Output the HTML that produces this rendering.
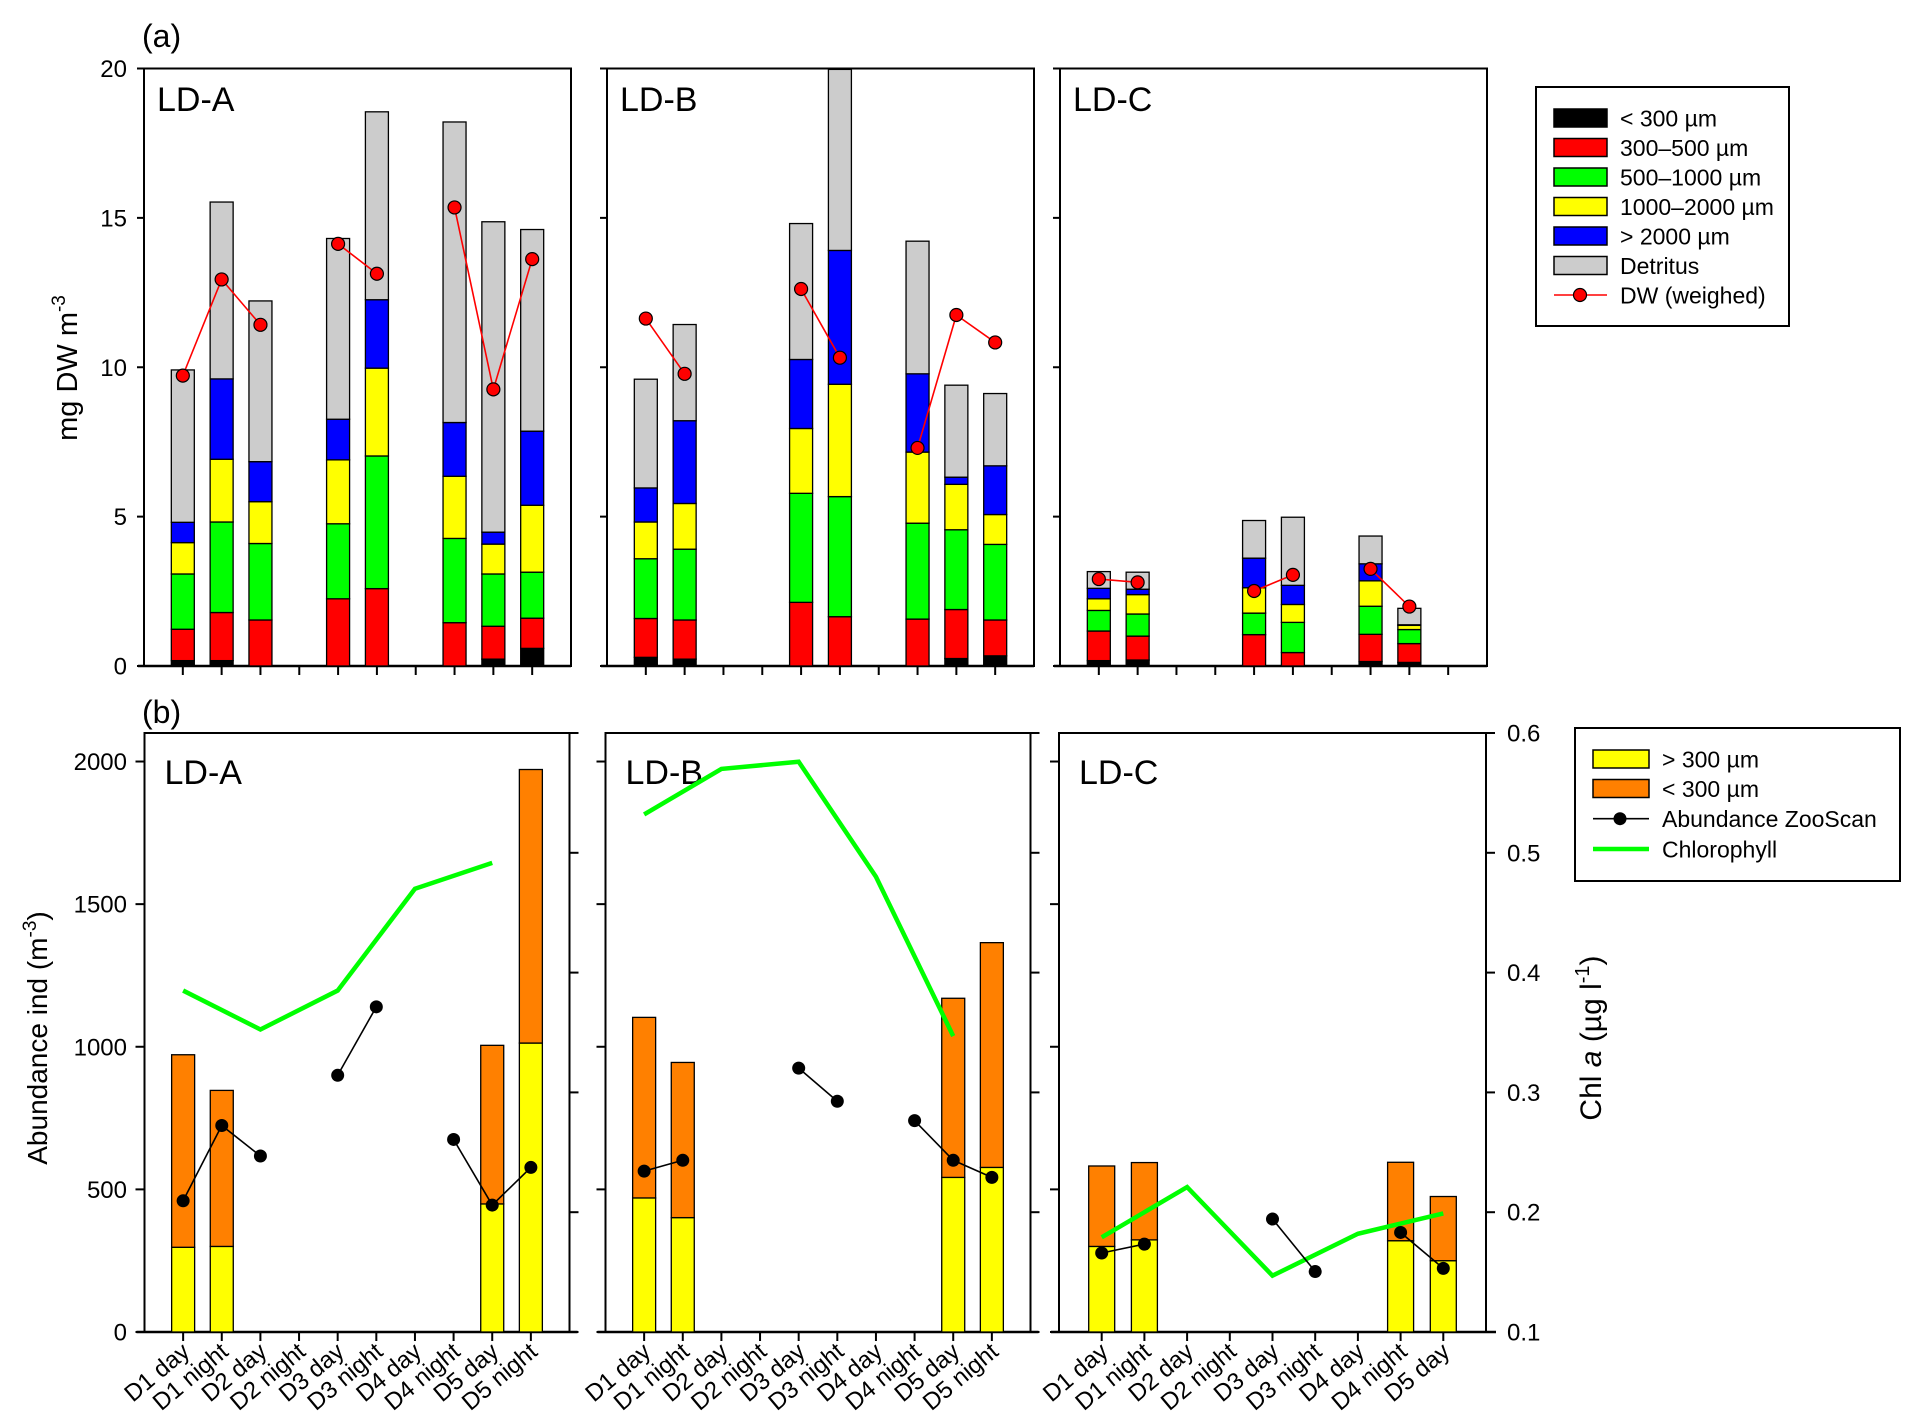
<!DOCTYPE html>
<html><head><meta charset="utf-8"><style>
html,body{margin:0;padding:0;background:#fff;}
svg{display:block;}
text{font-family:"Liberation Sans",sans-serif;fill:#000;}
</style></head><body>
<svg id="chart" width="1916" height="1427" viewBox="0 0 1916 1427" xmlns="http://www.w3.org/2000/svg"></svg>
<script>
// ---------- DATA ----------
const cats10 = ["D1 day","D1 night","D2 day","D2 night","D3 day","D3 night","D4 day","D4 night","D5 day","D5 night"];
const cats9 = ["D1 day","D1 night","D2 day","D2 night","D3 day","D3 night","D4 day","D4 night","D5 day"];
const yTicksA = [0,5,10,15,20];
const yTicksB = [0,500,1000,1500,2000];
const chlTicks = [0.1,0.2,0.3,0.4,0.5,0.6];
const sizeClasses = ["< 300 µm","300–500 µm","500–1000 µm","1000–2000 µm","> 2000 µm","Detritus"];
// panel (a) segments
const A_lt300 = [0.18,0.18,0,null,0,0,null,0,0.23,0.59];
const A_300_500 = [1.05,1.61,1.54,null,2.25,2.59,null,1.45,1.10,1.01];
const A_500_1000 = [1.85,3.03,2.56,null,2.51,4.44,null,2.82,1.75,1.54];
const A_1000_2000 = [1.05,2.10,1.40,null,2.14,2.94,null,2.08,1.00,2.24];
const A_gt2000 = [0.68,2.69,1.34,null,1.36,2.29,null,1.80,0.40,2.48];
const A_detritus = [5.10,5.92,5.38,null,6.05,6.29,null,10.06,10.39,6.75];
const A_dw = [9.72,12.94,11.42,null,14.13,13.13,null,15.35,9.26,13.62];
const B_lt300 = [0.29,0.23,null,null,0,0,null,0,0.25,0.34];
const B_300_500 = [1.30,1.31,null,null,2.13,1.65,null,1.57,1.64,1.20];
const B_500_1000 = [2.00,2.37,null,null,3.65,4.02,null,3.21,2.67,2.53];
const B_1000_2000 = [1.23,1.53,null,null,2.17,3.76,null,2.38,1.52,1.00];
const B_gt2000 = [1.14,2.77,null,null,2.31,4.48,null,2.62,0.24,1.63];
const B_detritus = [3.64,3.22,null,null,4.55,6.06,null,4.44,3.08,2.42];
const B_dw = [11.63,9.78,null,null,12.62,10.32,null,7.30,11.75,10.83];
const C_lt300 = [0.18,0.20,null,null,0,0,null,0.15,0.12,null];
const C_300_500 = [0.99,0.80,null,null,1.05,0.45,null,0.91,0.63,null];
const C_500_1000 = [0.69,0.74,null,null,0.72,1.01,null,0.94,0.47,null];
const C_1000_2000 = [0.39,0.65,null,null,0.85,0.60,null,0.85,0.14,null];
const C_gt2000 = [0.35,0.18,null,null,0.99,0.64,null,0.57,0.02,null];
const C_detritus = [0.56,0.57,null,null,1.26,2.28,null,0.93,0.55,null];
const C_dw = [2.91,2.80,null,null,2.51,3.05,null,3.25,1.99,null];
// panel (b)
const bA_gt300 = [297,300,null,null,null,null,null,null,449,1013];
const bA_lt300 = [675,547,null,null,null,null,null,null,556,959];
const bA_zoo = [460,724,617,null,900,1140,null,675,445,577];
const bA_chl = [0.385,null,0.3525,null,0.385,null,0.47,null,0.4916,null];
const bB_gt300 = [470,401,null,null,null,null,null,null,542,577];
const bB_lt300 = [633,544,null,null,null,null,null,null,628,788];
const bB_zoo = [564,602,null,null,925,809,null,741,602,542];
const bB_chl = [0.532,null,0.570,null,0.576,null,0.480,null,0.347,null];
const bC_gt300 = [300,323,null,null,null,null,null,320,250];
const bC_lt300 = [282,271,null,null,null,null,null,275,225];
const bC_zoo = [277,308,null,null,396,212,null,349,223];
const bC_chl = [0.179,null,0.221,null,0.147,null,0.182,null,0.199];

// ---------- DRAWING ----------
const NS = "http://www.w3.org/2000/svg";
const svg = document.getElementById("chart");
function mk(tag, attrs, parent) {
  const el = document.createElementNS(NS, tag);
  for (const k in attrs) el.setAttribute(k, attrs[k]);
  (parent || svg).appendChild(el);
  return el;
}
function label(x, y, s, fs, anchor, name, sx, rot) {
  const el = mk("text", {"font-size": fs, "text-anchor": anchor || "start",
    transform: "translate(" + x + "," + y + ")" + (rot ? " rotate(" + rot + ")" : "") + " scale(" + (sx || 1) + ",1)"});
  el.textContent = s;
  
  
  return el;
}
function line(x1, y1, x2, y2, name, stroke, w) {
  const el = mk("line", {x1: x1, y1: y1, x2: x2, y2: y2, stroke: stroke || "#000", "stroke-width": w || 2});
  
  
  return el;
}
const segColors = ["#000000","#ff0000","#00ff00","#ffff00","#0000ff","#cccccc"];

// panel (a)
const aTop = 68.5, aBot = 666;
const yA = v => aBot - (v / 20) * (aBot - aTop);
const panelsA = [
  {name: "LD-A", left: 144, segs: [A_lt300,A_300_500,A_500_1000,A_1000_2000,A_gt2000,A_detritus], dw: A_dw},
  {name: "LD-B", left: 607, segs: [B_lt300,B_300_500,B_500_1000,B_1000_2000,B_gt2000,B_detritus], dw: B_dw},
  {name: "LD-C", left: 1060, segs: [C_lt300,C_300_500,C_500_1000,C_1000_2000,C_gt2000,C_detritus], dw: C_dw}
];
const PW = 427;
panelsA.forEach((p, pi) => {
  const xA = i => p.left + (i + 1) * PW / 11;
  const frame = mk("rect", {x: p.left, y: aTop, width: PW, height: aBot - aTop, fill: "none", stroke: "#000", "stroke-width": 2});
  
  
  line(p.left - 6, aBot, p.left + PW, aBot, "x-axis-a-" + p.name.toLowerCase(), "#000", 2.5);
  yTicksA.forEach(t => {
    line(p.left - 7, yA(t), p.left, yA(t), "y-tick-a", "#000", 2);
    if (pi === 0) label(127, yA(t) + 8.5, String(t), 24, "end", "y-tick-label-a");
  });
  cats10.forEach((c, i) => line(xA(i), aBot, xA(i), aBot + 9, "x-tick-a", "#000", 2));
  label(p.left + 13, 111, p.name, 34, "start", "panel-a-title-" + p.name.toLowerCase());
  const bw = 23;
  for (let i = 0; i < 10; i++) {
    if (p.segs[0][i] === null) continue;
    let cum = 0;
    p.segs.forEach((arr, si) => {
      const v = arr[i] || 0;
      if (v <= 0) return;
      const r = mk("rect", {x: xA(i) - bw / 2, y: yA(cum + v), width: bw, height: yA(cum) - yA(cum + v),
        fill: segColors[si], stroke: "#000", "stroke-width": 1.3});
      
      
      cum += v;
    });
  }
  for (let i = 0; i < 9; i++) {
    if (p.dw[i] !== null && p.dw[i + 1] !== null)
      line(xA(i), yA(p.dw[i]), xA(i + 1), yA(p.dw[i + 1]), "dw-line", "#ff0000", 1.6);
  }
  p.dw.forEach((v, i) => {
    if (v === null) return;
    const c = mk("circle", {cx: xA(i), cy: yA(v), r: 6.5, fill: "#ff0000", stroke: "#000", "stroke-width": 1.2});
    
    
  });
});
label(142, 47, "(a)", 32, "start", "panel-a-letter");
{
  const t = mk("text", {"font-size": 29, "text-anchor": "middle", transform: "translate(77,368) rotate(-90)"});
  t.innerHTML = 'mg DW m<tspan dy="-12" font-size="19">-3</tspan>';
  
  
}
// legend (a)
{
  const lg = mk("rect", {x: 1536, y: 87, width: 253, height: 239, fill: "#fff", stroke: "#000", "stroke-width": 2});
  
  
  sizeClasses.forEach((s, i) => {
    const cy = 118 + i * 29.5;
    const r = mk("rect", {x: 1554, y: cy - 9, width: 53, height: 18, fill: segColors[i], stroke: "#000", "stroke-width": 1.5});
    
    
    label(1620, cy + 8.5, s, 23, "start", "legend-entry");
  });
  const cy = 118 + 6 * 29.5;
  line(1554, cy, 1607, cy, "legend-dw-line", "#ff0000", 1.6);
  const c = mk("circle", {cx: 1580, cy: cy, r: 6.5, fill: "#ff0000", stroke: "#000", "stroke-width": 1.2});
  
  
  label(1620, cy + 8.5, "DW (weighed)", 23, "start", "legend-entry");
}

// panel (b)
const bTop = 733, bBot = 1332;
const yB = v => bBot - (v / 2100) * (bBot - bTop);
const yChl = v => bBot - ((v - 0.1) / 0.5) * (bBot - bTop);
const panelsB = [
  {name: "LD-A", left: 144.5, w: 425, cats: cats10, gt: bA_gt300, lt: bA_lt300, zoo: bA_zoo, chl: bA_chl, bw: 23},
  {name: "LD-B", left: 605.5, w: 425, cats: cats10, gt: bB_gt300, lt: bB_lt300, zoo: bB_zoo, chl: bB_chl, bw: 23},
  {name: "LD-C", left: 1059, w: 427, cats: cats9, gt: bC_gt300, lt: bC_lt300, zoo: bC_zoo, chl: bC_chl, bw: 26}
];
panelsB.forEach((p, pi) => {
  const n = p.cats.length;
  const xB = i => p.left + (i + 1) * p.w / (n + 1);
  const frame = mk("rect", {x: p.left, y: bTop, width: p.w, height: bBot - bTop, fill: "none", stroke: "#000", "stroke-width": 2});
  
  
  line(p.left - 8, bBot, p.left + p.w + (pi === 2 ? 10 : 8), bBot, "x-axis-b-" + p.name.toLowerCase(), "#000", 2.5);
  yTicksB.forEach(t => {
    line(p.left - 9, yB(t), p.left, yB(t), "y-tick-b", "#000", 2);
    if (pi === 0) label(127, yB(t) + 8.5, String(t), 24, "end", "y-tick-label-b");
  });
  chlTicks.forEach(t => {
    line(p.left + p.w, yChl(t), p.left + p.w + 9, yChl(t), "chl-tick", "#000", 2);
    if (pi === 2) label(1507, yChl(t) + 8.5, t.toFixed(1), 24, "start", "chl-tick-label");
  });
  p.cats.forEach((c, i) => {
    line(xB(i), bBot, xB(i), bBot + 9, "x-tick-b", "#000", 2);
    label(xB(i) + 8, bBot + 22, c, 24, "end", "x-tick-label", 1, -40);
  });
  label(p.left + 20, 784, p.name, 34, "start", "panel-b-title-" + p.name.toLowerCase());
  for (let i = 0; i < n; i++) {
    if (p.gt[i] === null) continue;
    const r1 = mk("rect", {x: xB(i) - p.bw / 2, y: yB(p.gt[i]), width: p.bw, height: bBot - yB(p.gt[i]), fill: "#ffff00", stroke: "#000", "stroke-width": 1.3});
    
    
    const top = p.gt[i] + p.lt[i];
    const r2 = mk("rect", {x: xB(i) - p.bw / 2, y: yB(top), width: p.bw, height: yB(p.gt[i]) - yB(top), fill: "#ff8000", stroke: "#000", "stroke-width": 1.3});
    
    
  }
  const pts = [];
  p.chl.forEach((v, i) => { if (v !== null) pts.push(xB(i) + "," + yChl(v)); });
  const pl = mk("polyline", {points: pts.join(" "), fill: "none", stroke: "#00ff00", "stroke-width": 4.5});
  
  
  for (let i = 0; i < n - 1; i++) {
    if (p.zoo[i] !== null && p.zoo[i + 1] !== null)
      line(xB(i), yB(p.zoo[i]), xB(i + 1), yB(p.zoo[i + 1]), "zooscan-line", "#000", 1.6);
  }
  p.zoo.forEach((v, i) => {
    if (v === null) return;
    const c = mk("circle", {cx: xB(i), cy: yB(v), r: 6.5, fill: "#000"});
    
    
  });
});
label(142, 723, "(b)", 32, "start", "panel-b-letter");
{
  const t = mk("text", {"font-size": 28, "text-anchor": "middle", transform: "translate(47,1038) rotate(-90)"});
  t.innerHTML = 'Abundance ind (m<tspan dy="-11" font-size="19">-3</tspan><tspan dy="11">)</tspan>';
  
  
  const t2 = mk("text", {"font-size": 30, "text-anchor": "middle", transform: "translate(1601,1038) rotate(-90)"});
  t2.innerHTML = 'Chl <tspan font-style="italic">a</tspan> (µg l<tspan dy="-12" font-size="20">-1</tspan><tspan dy="12">)</tspan>';
  
  
}
// legend (b)
{
  const lg = mk("rect", {x: 1575, y: 728, width: 325, height: 153, fill: "#fff", stroke: "#000", "stroke-width": 2});
  
  
  const r1 = mk("rect", {x: 1593, y: 750, width: 56, height: 18, fill: "#ffff00", stroke: "#000", "stroke-width": 1.5});
  
  
  label(1662, 767.5, "> 300 µm", 23, "start", "legend-entry");
  const r2 = mk("rect", {x: 1593, y: 779.5, width: 56, height: 18, fill: "#ff8000", stroke: "#000", "stroke-width": 1.5});
  
  
  label(1662, 797, "< 300 µm", 23, "start", "legend-entry");
  line(1593, 818.7, 1649, 818.7, "legend-zooscan-line", "#000", 1.6);
  const c = mk("circle", {cx: 1620, cy: 818.7, r: 6.5, fill: "#000"});
  
  
  label(1662, 827, "Abundance ZooScan", 23, "start", "legend-entry");
  line(1593, 849, 1649, 849, "legend-chl-line", "#00ff00", 4.5);
  label(1662, 857.5, "Chlorophyll", 23, "start", "legend-entry");
}
</script>
</body></html>
